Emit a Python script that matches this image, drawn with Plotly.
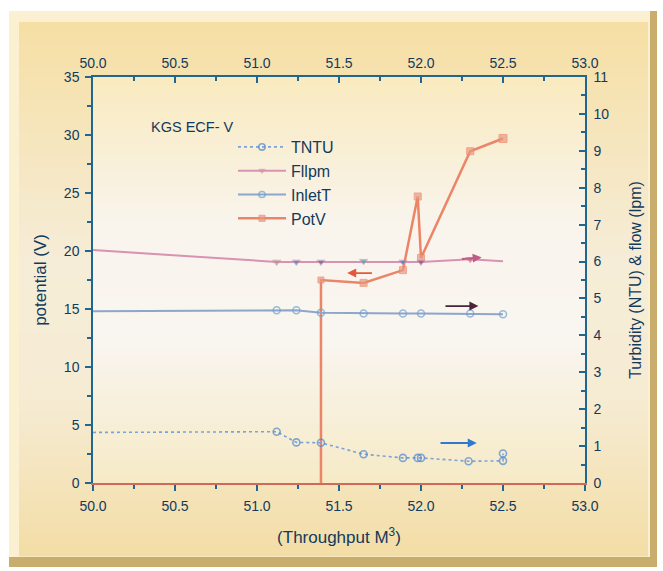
import plotly.graph_objects as go

# ---- data -------------------------------------------------------------
# Treated-water turbidity (NTU), right axis
tntu_x = [50.0, 51.12, 51.24, 51.39, 51.65, 51.89, 51.98, 52.0, 52.29, 52.5, 52.5]
tntu_y = [1.37, 1.39, 1.10, 1.09, 0.78, 0.68, 0.68, 0.68, 0.59, 0.60, 0.80]

# Flow (lpm), right axis
flow_x = [50.0, 51.12, 51.24, 51.39, 51.65, 51.89, 52.0, 52.3, 52.5]
flow_y = [6.31, 5.99, 5.99, 5.99, 6.01, 5.99, 5.99, 6.06, 6.01]

# Inlet turbidity (NTU), right axis
inlet_x = [50.0, 51.12, 51.24, 51.39, 51.65, 51.89, 52.0, 52.3, 52.5]
inlet_y = [4.65, 4.68, 4.68, 4.61, 4.59, 4.59, 4.59, 4.59, 4.57]

# Cell potential (V), left axis
potv_x = [51.39, 51.39, 51.65, 51.89, 51.98, 52.0, 52.3, 52.5]
potv_y = [0.0, 17.5, 17.25, 18.35, 24.7, 19.4, 28.6, 29.7]

x_ticks = [50.0, 50.5, 51.0, 51.5, 52.0, 52.5, 53.0]
left_ticks = [0, 5, 10, 15, 20, 25, 30, 35]
right_ticks = [0, 1, 2, 3, 4, 5, 6, 7, 8, 9, 10, 11]

# ---- geometry / styling -----------------------------------------------
W, H = 663, 571
L, R, T, B = 93, 585, 77, 483
FONT = "Liberation Sans, Arial, sans-serif"
TXT = "#123a5c"
AX = "#1f6690"


def px(xp):
    return (xp - L) / (R - L)


def py(yp):
    return (B - yp) / (B - T)


def lerp_color(stops, t):
    for (t0, c0), (t1, c1) in zip(stops, stops[1:]):
        if t0 <= t <= t1:
            f = 0 if t1 == t0 else (t - t0) / (t1 - t0)
            return "rgb(%d,%d,%d)" % tuple(round(a + (b - a) * f) for a, b in zip(c0, c1))
    return "rgb(%d,%d,%d)" % stops[-1][1]


def gradient(x0, x1, y0, y1, stops, n=48):
    out = []
    h = (y1 - y0) / n
    for i in range(n):
        ya = y0 + i * h
        out.append(dict(type="rect", xref="paper", yref="paper", layer="below",
                        x0=px(x0), x1=px(x1), y0=py(ya), y1=py(ya + h + 0.6),
                        fillcolor=lerp_color(stops, (i + 0.5) / n), line_width=0))
    return out


shapes = []
# bevelled panel
shapes.append(dict(type="rect", xref="paper", yref="paper", layer="below",
                   x0=px(9), x1=px(657), y0=py(11), y1=py(567),
                   fillcolor="#c9ad6c", line_width=0))
shapes.append(dict(type="rect", xref="paper", yref="paper", layer="below",
                   x0=px(9), x1=px(650), y0=py(11), y1=py(557),
                   fillcolor="#fbf0d2", line_width=0))
shapes += gradient(19, 648, 22, 556,
                   [(0.0, (246, 223, 164)), (0.45, (246, 237, 216)),
                    (0.7, (246, 236, 212)), (1.0, (244, 222, 166))])
# plot area
shapes += gradient(L, R, T, B,
                   [(0.0, (249, 234, 190)), (0.35, (249, 244, 236)),
                    (0.65, (249, 245, 240)), (1.0, (246, 234, 198))])

fig = go.Figure()

fig.add_trace(go.Scatter(
    x=tntu_x, y=tntu_y, name="TNTU", mode="lines+markers", yaxis="y2",
    line=dict(color="#7aa2d8", width=1.6, dash="dot"),
    marker=dict(symbol="circle-open", size=[0] + [7] * (len(tntu_x) - 1),
                color="#4f86d0", line=dict(width=1.6)),
    legendgroup="a"))

fig.add_trace(go.Scatter(
    x=flow_x, y=flow_y, name="Fllpm", mode="lines+markers", yaxis="y2",
    line=dict(color="#d892b2", width=2),
    marker=dict(symbol="triangle-down", size=[0, 7, 7, 7, 7, 7, 7, 7, 0],
                color=["#d892b2", "#93a86a", "#2f8fc4", "#4f6f9c", "#3fa9a9",
                       "#2f86c4", "#6b5a92", "#c0608a", "#d892b2"]),
    legendgroup="b"))

fig.add_trace(go.Scatter(
    x=inlet_x, y=inlet_y, name="InletT", mode="lines+markers",
    xaxis="x2", yaxis="y2",
    line=dict(color="#8fa6cc", width=2),
    marker=dict(symbol="circle-open", size=[0, 7, 7, 7, 7, 7, 7, 7, 7],
                color="#6f9fd0", line=dict(width=1.5)),
    legendgroup="c"))

fig.add_trace(go.Scatter(
    x=potv_x, y=potv_y, name="PotV", mode="lines+markers",
    line=dict(color="#ec8468", width=2.5),
    marker=dict(symbol="square", size=[0, 6, 7, 7, 7, 7, 7, 8],
                color="#e79a84"),
    legendgroup="d"))

# direction arrows pointing each curve to its axis
arrows = [
    dict(x=51.55, y=18.1, ax=51.71, ay=18.1, color="#e5573c"),
    dict(x=52.37, y=19.45, ax=52.24, ay=19.3, color="#c25a86"),
    dict(x=52.35, y=15.25, ax=52.14, ay=15.25, color="#4a2438"),
    dict(x=52.34, y=3.45, ax=52.11, ay=3.45, color="#2f7ad0"),
]
annotations = [dict(x=a["x"], y=a["y"], ax=a["ax"], ay=a["ay"], xref="x", yref="y",
                    axref="x", ayref="y", text="", showarrow=True, arrowhead=2,
                    arrowsize=1, arrowwidth=1.8, arrowcolor=a["color"])
               for a in arrows]
annotations.append(dict(text="KGS ECF- V", xref="paper", yref="paper",
                        x=px(149), y=py(127), xanchor="left", yanchor="middle",
                        showarrow=False, font=dict(family=FONT, size=14.5, color=TXT)))

axis_common = dict(showgrid=False, zeroline=False, showline=True, linewidth=1.5,
                   linecolor=AX, tickcolor=AX, tickwidth=1.5, ticklen=6,
                   tickfont=dict(family=FONT, size=14, color=TXT))

fig.update_layout(
    width=W, height=H,
    margin=dict(l=L, r=W - R, t=T, b=H - B, pad=0),
    paper_bgcolor="white", plot_bgcolor="rgba(0,0,0,0)",
    shapes=shapes, annotations=annotations,
    xaxis=dict(range=[50, 53], tickvals=x_ticks, tickformat=".1f", ticks="outside",
               ticklabelstandoff=3,
               minor=dict(dtick=0.25, ticks="outside", ticklen=4, tickcolor=AX),
               title=dict(text="(Throughput M<sup>3</sup>)", standoff=19,
                          font=dict(family=FONT, size=17, color=TXT)),
               **{**axis_common, "linecolor": "#d06a58"}),
    xaxis2=dict(range=[50, 53], tickvals=x_ticks, tickformat=".1f", ticks="inside",
                overlaying="x", side="top", anchor="y", ticklabelstandoff=2,
                minor=dict(dtick=0.25, ticks="inside", ticklen=4, tickcolor=AX),
                **axis_common),
    yaxis=dict(range=[0, 35], tickvals=left_ticks, ticks="outside",
               ticklabelstandoff=3,
               minor=dict(dtick=2.5, ticks="outside", ticklen=4, tickcolor=AX),
               title=dict(text="potential (V)", standoff=13,
                          font=dict(family=FONT, size=17, color=TXT)),
               **axis_common),
    yaxis2=dict(range=[0, 11], tickvals=right_ticks, ticks="inside",
                overlaying="y", side="right", anchor="x", ticklabelstandoff=4,
                minor=dict(dtick=0.5, ticks="inside", ticklen=4, tickcolor=AX),
                title=dict(text="Turbidity (NTU) & flow (lpm)", standoff=21,
                           font=dict(family=FONT, size=16, color=TXT)),
                **axis_common),
    legend=dict(x=px(233), y=py(130), xanchor="left", yanchor="top",
                bgcolor="rgba(0,0,0,0)", borderwidth=0, itemwidth=48,
                tracegroupgap=0, traceorder="grouped",
                font=dict(family=FONT, size=16, color=TXT)),
    showlegend=True,
)

fig.write_html("out.html")
